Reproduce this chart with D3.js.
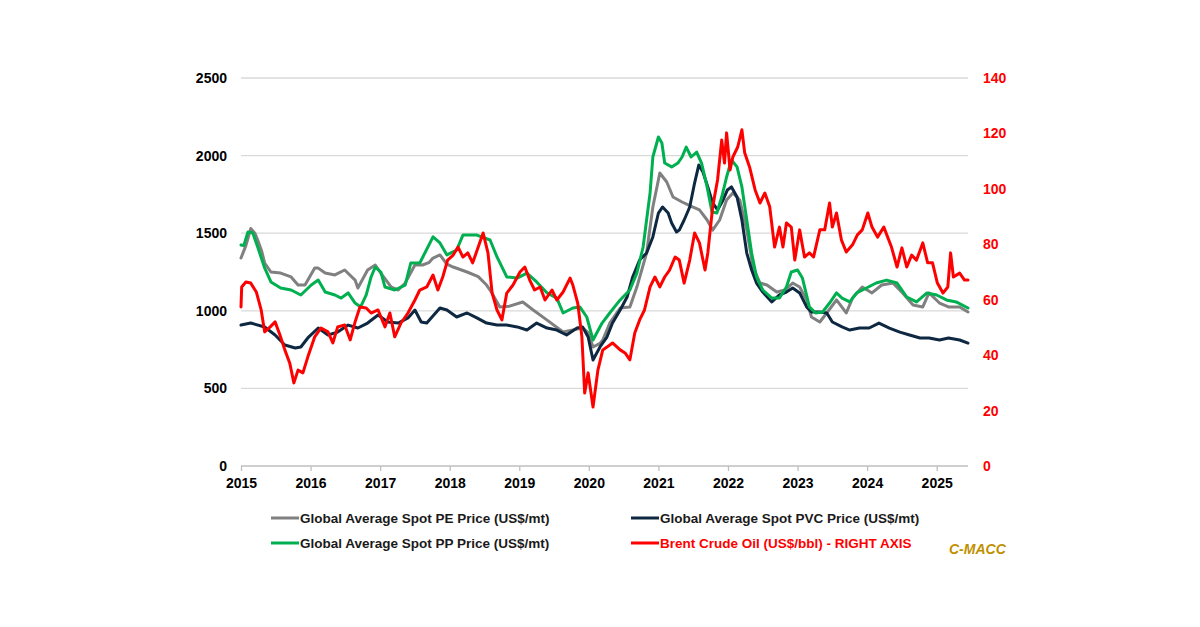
<!DOCTYPE html>
<html>
<head>
<meta charset="utf-8">
<script src="https://cdn.jsdelivr.net/npm/d3@7"></script>
<style>
  html, body { margin: 0; padding: 0; background: #fff; }
  svg { display: block; }
  text { font-family: "Liberation Sans", Arial, sans-serif; font-weight: bold; }
</style>
</head>
<body>
<div id="chart"></div>
<script>
// valores: [año decimal, valor]
const pePrice = [[2015.00,1340],[2015.07,1420],[2015.14,1530],[2015.20,1500],[2015.24,1456],[2015.30,1380],[2015.34,1308],[2015.43,1250],[2015.57,1243],[2015.72,1218],[2015.82,1166],[2015.92,1166],[2016.06,1276],[2016.11,1275],[2016.21,1243],[2016.35,1231],[2016.49,1263],[2016.64,1198],[2016.68,1147],[2016.82,1263],[2016.93,1295],[2017.01,1243],[2017.16,1153],[2017.26,1134],[2017.36,1179],[2017.50,1295],[2017.61,1295],[2017.70,1310],[2017.76,1340],[2017.86,1360],[2017.96,1300],[2018.05,1282],[2018.25,1250],[2018.41,1220],[2018.53,1166],[2018.60,1120],[2018.72,1025],[2018.86,1030],[2019.05,1057],[2019.20,1005],[2019.40,940],[2019.63,863],[2019.77,876],[2019.91,890],[2019.99,860],[2020.06,767],[2020.16,790],[2020.20,812],[2020.30,920],[2020.45,1018],[2020.59,1025],[2020.69,1153],[2020.83,1372],[2020.92,1669],[2021.02,1888],[2021.12,1830],[2021.21,1733],[2021.34,1701],[2021.49,1669],[2021.59,1650],[2021.70,1585],[2021.78,1520],[2021.88,1585],[2021.98,1714],[2022.07,1759],[2022.17,1714],[2022.27,1520],[2022.36,1282],[2022.46,1179],[2022.56,1166],[2022.70,1121],[2022.82,1134],[2022.93,1179],[2023.03,1153],[2023.13,1070],[2023.20,960],[2023.32,928],[2023.42,986],[2023.56,1070],[2023.70,986],[2023.79,1082],[2023.93,1153],[2024.07,1115],[2024.21,1166],[2024.37,1179],[2024.51,1115],[2024.66,1037],[2024.80,1025],[2024.89,1115],[2025.04,1050],[2025.17,1025],[2025.33,1025],[2025.45,992]];

const ppPrice = [[2015.00,1424],[2015.04,1420],[2015.10,1508],[2015.17,1501],[2015.24,1411],[2015.34,1276],[2015.43,1186],[2015.57,1147],[2015.72,1134],[2015.86,1102],[2016.01,1166],[2016.11,1198],[2016.21,1121],[2016.35,1102],[2016.44,1082],[2016.54,1115],[2016.64,1050],[2016.72,1025],[2016.80,1102],[2016.87,1218],[2016.93,1282],[2017.01,1250],[2017.07,1153],[2017.21,1134],[2017.36,1166],[2017.44,1308],[2017.57,1308],[2017.76,1476],[2017.86,1437],[2017.96,1360],[2018.10,1392],[2018.19,1488],[2018.39,1488],[2018.58,1456],[2018.68,1347],[2018.82,1218],[2018.97,1211],[2019.11,1243],[2019.25,1186],[2019.40,1115],[2019.54,1082],[2019.63,986],[2019.77,1018],[2019.87,1025],[2019.97,960],[2020.06,812],[2020.19,921],[2020.30,986],[2020.45,1070],[2020.59,1134],[2020.69,1243],[2020.78,1411],[2020.88,1759],[2020.92,1991],[2021.00,2120],[2021.05,2081],[2021.09,1952],[2021.19,1927],[2021.28,1952],[2021.34,1991],[2021.40,2055],[2021.47,1991],[2021.55,2023],[2021.62,1952],[2021.70,1798],[2021.77,1637],[2021.84,1630],[2021.91,1733],[2021.98,1862],[2022.05,1972],[2022.13,1927],[2022.20,1798],[2022.27,1585],[2022.34,1372],[2022.41,1218],[2022.50,1134],[2022.63,1082],[2022.74,1082],[2022.84,1153],[2022.91,1250],[2023.00,1263],[2023.07,1211],[2023.17,1025],[2023.26,986],[2023.36,992],[2023.46,1050],[2023.56,1115],[2023.64,1082],[2023.75,1057],[2023.85,1115],[2023.99,1147],[2024.13,1179],[2024.28,1198],[2024.43,1179],[2024.57,1089],[2024.71,1057],[2024.86,1115],[2025.00,1102],[2025.14,1070],[2025.28,1057],[2025.45,1018]];

const pvcPrice = [[2015.00,908],[2015.14,921],[2015.34,896],[2015.49,844],[2015.63,780],[2015.78,760],[2015.86,767],[2015.96,825],[2016.11,889],[2016.25,844],[2016.39,863],[2016.54,908],[2016.68,889],[2016.82,921],[2016.97,973],[2017.11,928],[2017.26,921],[2017.40,954],[2017.50,1005],[2017.59,928],[2017.67,921],[2017.86,1018],[2017.96,1005],[2018.10,960],[2018.25,986],[2018.39,954],[2018.53,921],[2018.68,908],[2018.82,908],[2018.97,896],[2019.11,876],[2019.25,921],[2019.40,889],[2019.54,876],[2019.68,844],[2019.83,889],[2019.91,896],[2019.99,831],[2020.06,683],[2020.16,767],[2020.26,831],[2020.34,921],[2020.45,1005],[2020.55,1089],[2020.63,1218],[2020.73,1327],[2020.83,1372],[2020.92,1476],[2021.00,1630],[2021.06,1669],[2021.14,1630],[2021.19,1566],[2021.26,1508],[2021.30,1520],[2021.37,1585],[2021.45,1669],[2021.52,1823],[2021.58,1939],[2021.64,1894],[2021.71,1798],[2021.78,1695],[2021.85,1650],[2021.93,1714],[2021.99,1778],[2022.05,1798],[2022.13,1733],[2022.20,1585],[2022.27,1372],[2022.34,1263],[2022.41,1179],[2022.50,1121],[2022.63,1057],[2022.74,1102],[2022.84,1121],[2022.93,1147],[2023.03,1115],[2023.13,1025],[2023.20,992],[2023.32,992],[2023.42,986],[2023.50,928],[2023.64,896],[2023.75,876],[2023.89,889],[2024.03,889],[2024.17,921],[2024.32,889],[2024.47,863],[2024.61,844],[2024.76,825],[2024.89,825],[2025.04,812],[2025.17,825],[2025.33,812],[2025.45,792]];

const brentPrice = [[2015.00,57.4],[2015.01,64.6],[2015.07,66.4],[2015.14,66],[2015.22,62.8],[2015.29,56.3],[2015.34,48.4],[2015.42,50.2],[2015.49,52],[2015.56,47.3],[2015.63,41.9],[2015.70,37.2],[2015.76,30],[2015.82,34.6],[2015.89,33.6],[2015.96,39.3],[2016.06,46.6],[2016.15,49.8],[2016.25,48.4],[2016.32,44.4],[2016.39,50.2],[2016.49,50.9],[2016.57,45.5],[2016.64,52],[2016.71,57.4],[2016.80,57],[2016.87,55.2],[2016.97,56.3],[2017.07,50.2],[2017.14,55.2],[2017.21,46.6],[2017.30,51.6],[2017.40,55.2],[2017.50,59.9],[2017.57,63.5],[2017.67,64.6],[2017.76,68.9],[2017.83,63.5],[2017.90,68.2],[2017.97,74.3],[2018.05,76.1],[2018.12,79],[2018.19,75.4],[2018.26,76.9],[2018.33,73.3],[2018.41,79],[2018.48,84.1],[2018.55,76.9],[2018.61,62.4],[2018.68,56.3],[2018.75,52.7],[2018.82,62.4],[2018.91,65.3],[2019.01,70],[2019.08,71.8],[2019.15,67.1],[2019.22,63.5],[2019.30,64.6],[2019.37,59.9],[2019.47,63.5],[2019.54,59.9],[2019.63,62.8],[2019.73,67.8],[2019.77,65.3],[2019.84,58.8],[2019.90,46.6],[2019.94,26.3],[2019.99,33.6],[2020.06,21.3],[2020.13,34.6],[2020.20,41.9],[2020.26,42.9],[2020.34,44.4],[2020.45,41.9],[2020.52,40.8],[2020.59,38.3],[2020.66,48],[2020.73,52.7],[2020.80,56.3],[2020.88,64.6],[2020.95,68.2],[2021.02,64.6],[2021.09,68.2],[2021.16,70.7],[2021.24,75.4],[2021.30,74.3],[2021.37,66],[2021.45,74.3],[2021.52,84.1],[2021.59,80.5],[2021.67,70.7],[2021.71,76.9],[2021.78,93.5],[2021.85,103.2],[2021.91,117.6],[2021.95,109.3],[2021.98,120.2],[2022.03,106.8],[2022.07,111.5],[2022.14,115.1],[2022.20,121.3],[2022.24,113],[2022.31,107.9],[2022.39,99.6],[2022.46,94.9],[2022.53,98.5],[2022.60,93.5],[2022.67,79],[2022.74,86.2],[2022.79,79],[2022.84,87.7],[2022.91,86.2],[2022.96,74.3],[2023.03,85.2],[2023.10,75.4],[2023.17,76.9],[2023.23,75.4],[2023.32,85.2],[2023.39,85.2],[2023.46,94.9],[2023.50,86.2],[2023.56,91.3],[2023.63,81.6],[2023.70,77.2],[2023.79,79.8],[2023.86,83.4],[2023.93,85.2],[2024.01,91.3],[2024.07,86.2],[2024.15,82.6],[2024.24,86.2],[2024.35,79],[2024.43,71.8],[2024.50,78.7],[2024.57,71.8],[2024.64,76.1],[2024.71,74.3],[2024.80,80.5],[2024.87,73.3],[2024.94,73.3],[2025.01,66],[2025.09,62.4],[2025.16,64.6],[2025.20,76.9],[2025.24,68.2],[2025.33,69.6],[2025.40,67.1],[2025.45,67.1]];

const yearTicks = [2015, 2016, 2017, 2018, 2019, 2020, 2021, 2022, 2023, 2024, 2025];
const leftTicks = [0, 500, 1000, 1500, 2000, 2500];
const rightTicks = [0, 20, 40, 60, 80, 100, 120, 140];

const series = [
  { name: "Global Average Spot PE Price (US$/mt)", data: pePrice, color: "#808080", axis: "left" },
  { name: "Global Average Spot PVC Price (US$/mt)", data: pvcPrice, color: "#0e2841", axis: "left" },
  { name: "Global Average Spot PP Price (US$/mt)", data: ppPrice, color: "#00b050", axis: "left" },
  { name: "Brent Crude Oil (US$/bbl) - RIGHT AXIS", data: brentPrice, color: "#ff0000", axis: "right" }
];

const W = 1200, H = 627;
const m = { left: 241, right: 968, top: 78, bottom: 466 };

const svg = d3.select("#chart").append("svg")
  .attr("width", W).attr("height", H);

const x = d3.scaleLinear().domain([2015, 2025.45]).range([m.left, m.right]);
const yL = d3.scaleLinear().domain([0, 2500]).range([m.bottom, m.top]);
const yR = d3.scaleLinear().domain([0, 140]).range([m.bottom, m.top]);

// lineas de rejilla
svg.append("g")
  .selectAll("line")
  .data(leftTicks.slice(1))
  .join("line")
  .attr("x1", m.left).attr("x2", m.right)
  .attr("y1", d => yL(d)).attr("y2", d => yL(d))
  .attr("stroke", "#d9d9d9").attr("stroke-width", 1.3);

// eje izquierdo
const gL = svg.append("g")
  .attr("transform", `translate(${m.left - 14},0)`)
  .call(d3.axisLeft(yL).tickValues(leftTicks).tickFormat(d3.format("d")).tickSize(0).tickPadding(0));
gL.select(".domain").remove();
gL.selectAll("text")
  .attr("font-size", 14).attr("fill", "#000")
  .attr("font-family", "'Liberation Sans', Arial, sans-serif");

// eje derecho
const gR = svg.append("g")
  .attr("transform", `translate(${m.right + 15},0)`)
  .call(d3.axisRight(yR).tickValues(rightTicks).tickSize(0).tickPadding(0));
gR.select(".domain").remove();
gR.selectAll("text")
  .attr("font-size", 14).attr("fill", "#ff0000")
  .attr("font-family", "'Liberation Sans', Arial, sans-serif");

// eje x
const gX = svg.append("g")
  .attr("transform", `translate(0,${m.bottom})`)
  .call(d3.axisBottom(x).tickValues(yearTicks).tickFormat(d3.format("d")).tickSize(5).tickPadding(7));
gX.select(".domain").attr("stroke", "#bfbfbf").attr("stroke-width", 1.3)
  .attr("d", `M${m.left},0H${m.right}`);
gX.selectAll(".tick line").attr("stroke", "#bfbfbf").attr("stroke-width", 1.3);
gX.selectAll("text")
  .attr("font-size", 14).attr("fill", "#000")
  .attr("font-family", "'Liberation Sans', Arial, sans-serif");

// series
series.forEach(s => {
  const yy = s.axis === "left" ? yL : yR;
  const line = d3.line()
    .x(d => x(d[0]))
    .y(d => yy(d[1]));
  svg.append("path")
    .datum(s.data)
    .attr("fill", "none")
    .attr("stroke", s.color)
    .attr("stroke-width", 3)
    .attr("stroke-linejoin", "round")
    .attr("stroke-linecap", "round")
    .attr("d", line);
});

// leyenda
const legendPos = [
  { lx: 271, ly: 518 },
  { lx: 631, ly: 518 },
  { lx: 271, ly: 543 },
  { lx: 631, ly: 543 }
];
series.forEach((s, i) => {
  const p = legendPos[i];
  svg.append("line")
    .attr("x1", p.lx).attr("x2", p.lx + 28)
    .attr("y1", p.ly).attr("y2", p.ly)
    .attr("stroke", s.color).attr("stroke-width", 3);
  svg.append("text")
    .attr("x", p.lx + 29).attr("y", p.ly + 5)
    .attr("font-size", 13.5)
    .attr("fill", s.axis === "right" ? "#ff0000" : "#1a1a1a")
    .text(s.name);
});

svg.append("text")
  .attr("x", 949).attr("y", 554)
  .attr("font-size", 14)
  .attr("font-style", "italic")
  .attr("fill", "#c09000")
  .text("C-MACC");
</script>
</body>
</html>
